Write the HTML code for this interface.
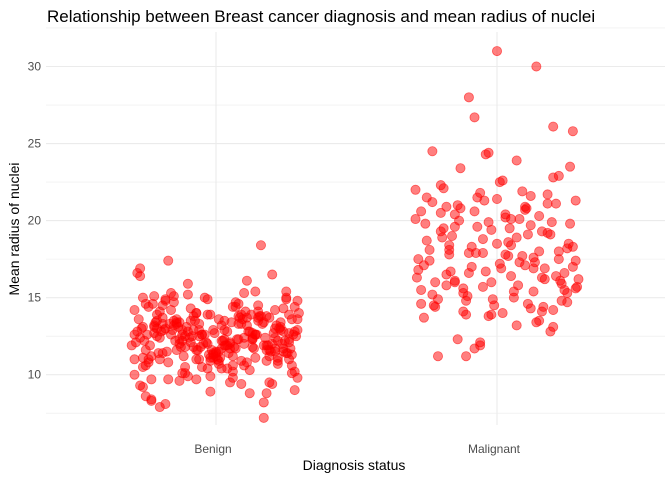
<!DOCTYPE html>
<html><head><meta charset="utf-8"><style>
body{margin:0;background:#fff;}
svg{display:block;font-family:"Liberation Sans",sans-serif;}
</style></head><body>
<svg id="chart" width="672" height="480">
<text x="47" y="22" font-size="17" fill="#000">Relationship between Breast cancer diagnosis and mean radius of nuclei</text>
<g id="grid"></g>
<g id="yticks"></g>
<g id="xticks"></g>
<g id="points"></g>
<text x="354" y="470" font-size="14" text-anchor="middle" fill="#000">Diagnosis status</text>
<text transform="translate(19,229) rotate(-90)" font-size="14" text-anchor="middle" fill="#000">Mean radius of nuclei</text>
</svg>
<script>
const categories=["Benign","Malignant"];
const yTicks=[10,15,20,25,30];
const benignJitter=[-0.29,-0.27,-0.25,-0.22,-0.2,-0.18,-0.15,-0.12,-0.1,-0.08,-0.05,-0.02,0,0.03,0.05,0.08,0.1,0.13,0.15,0.18,0.2,0.23,0.25,0.28,
-0.28,-0.26,-0.23,-0.21,-0.19,-0.16,-0.13,-0.11,-0.09,-0.06,-0.03,-0.01,0.02,0.04,0.07,0.09,0.12,0.14,0.17,0.19,0.22,0.24,0.27,0.29,
-0.29,-0.26,-0.24,-0.21,-0.17,-0.14,-0.12,-0.07,-0.04,-0.01,0.01,0.04,0.06,0.1,0.11,0.14,0.16,0.2,0.21,0.24,0.26,0.29,
-0.27,-0.25,-0.22,-0.2,-0.18,-0.15,-0.13,-0.1,-0.07,-0.05,-0.02,0.01,0.03,0.06,0.08,0.11,0.13,0.16,0.18,0.21,0.23,0.26,0.28,
-0.3,-0.26,-0.23,-0.19,-0.16,-0.12,-0.09,-0.06,-0.03,0,0.03,0.06,0.09,0.12,0.15,0.19,0.22,0.25,0.28,
-0.28,-0.24,-0.2,-0.17,-0.14,-0.11,-0.08,-0.04,-0.01,0.02,0.05,0.08,0.12,0.15,0.18,0.21,0.24,0.27,
-0.29,-0.25,-0.21,-0.18,-0.14,-0.1,-0.06,-0.02,0.02,0.06,0.1,0.14,0.18,0.22,0.26,0.29,
-0.27,-0.23,-0.19,-0.15,-0.11,-0.07,-0.03,0.01,0.05,0.09,0.13,0.17,0.21,0.25,
-0.26,-0.2,-0.13,-0.07,0,0.07,0.13,0.2,0.26,-0.24,-0.16,-0.08,0.04,0.11,0.19,0.27,-0.22,-0.12,-0.02,0.08,0.17,0.24,
-0.285,-0.265,-0.245,-0.225,-0.205,-0.185,-0.165,-0.145,-0.125,-0.105,-0.085,-0.065,-0.045,-0.025,-0.005,0.015,0.035,0.055,0.075,0.095,0.115,0.135,0.155,0.175,0.195,0.215,0.235,0.255,0.275,0.295,
-0.275,-0.255,-0.235,-0.215,-0.195,-0.175,-0.155,-0.135,-0.115,-0.095,-0.075,-0.055,-0.035,-0.015,0.005,0.025,0.045,0.065,0.085,0.105,0.125,0.145,0.165,0.185,0.205,0.225,0.245,0.265,0.285,
-0.29,-0.25,-0.21,-0.17,-0.13,-0.09,-0.05,-0.01,0.03,0.07,0.11,0.15,0.19,0.23,0.27,
-0.27,-0.23,-0.19,-0.15,-0.11,-0.07,-0.03,0.01,0.05,0.09,0.13,0.17,0.21,0.25,0.29,
-0.26,-0.18,-0.1,-0.02,0.06,0.14,0.22,0.28,-0.22,-0.14,-0.06,0.02,0.1,0.18,0.26];
const benignValues=[14.2,16.4,11.6,15.1,12.4,14.9,13.2,12.9,15.9,11.8,12.6,10.9,11.2,13.5,12.1,13.8,15.3,12.7,14.5,11.9,16.5,13.4,15.0,12.8,
12.8,10.5,9.7,13.0,11.4,15.3,12.3,11.8,13.5,12.9,14.9,11.1,13.2,10.4,11.7,13.9,12.8,15.4,11.9,13.7,12.2,14.3,11.3,12.9,
10.0,13.1,10.8,12.5,17.4,13.6,12.2,14.0,12.6,11.3,10.7,11.9,14.4,12.4,13.7,11.1,13.8,12.0,11.5,11.5,13.9,14.8,
9.3,10.6,12.7,14.1,13.0,14.7,9.6,15.2,11.6,12.6,9.9,13.6,11.9,9.8,14.6,13.2,12.4,18.4,11.6,12.4,13.1,12.1,10.2,
11.9,9.2,8.4,13.3,12.6,10.1,12.1,11.0,10.4,11.4,12.3,11.2,13.3,8.8,13.5,9.5,10.9,14.9,9.0,
16.6,14.4,11.0,9.7,13.4,10.1,12.9,15.0,12.9,11.7,12.0,13.3,10.3,14.1,10.9,11.7,12.8,10.1,
12.6,8.6,13.5,8.1,13.3,9.9,13.3,8.9,12.2,10.2,10.6,12.6,8.8,10.7,11.0,9.8,
16.9,8.3,13.7,15.1,10.5,9.7,12.0,10.9,9.5,9.4,12.3,7.2,13.0,15.4,
15.0,7.9,13.4,14.0,11.5,14.4,11.8,9.4,12.7,11.0,14.2,13.8,12.8,16.1,11.6,13.6,13.1,12.6,13.9,12.3,8.2,11.7,
12.1,13.0,12.6,14.6,11.4,12.9,13.3,12.2,11.8,13.1,12.5,11.6,12.0,11.3,12.7,11.1,11.9,13.4,12.3,13.6,12.8,11.7,13.8,12.4,11.5,13.2,12.0,11.4,12.6,14.0,
13.6,12.2,11.9,13.4,12.8,11.5,12.9,13.1,11.2,12.4,13.5,11.8,12.1,11.6,11.0,12.2,11.4,11.8,13.7,14.1,13.9,12.6,13.3,11.9,12.7,13.0,12.2,11.7,12.5,
11.0,14.6,13.9,10.8,12.0,14.3,10.5,11.4,12.9,14.7,10.8,13.7,11.2,12.9,10.6,
12.4,11.2,14.5,13.5,12.5,11.0,13.9,11.5,11.7,10.9,12.3,13.4,14.2,11.4,13.6,
11.1,14.8,12.8,11.1,10.6,12.6,11.1,14.4,13.2,11.6,12.5,10.4,12.0,13.8,12.3];
const malignantJitter=[-0.29,-0.27,-0.25,-0.23,-0.21,-0.19,-0.17,-0.15,-0.13,-0.11,-0.09,-0.07,-0.05,-0.03,-0.01,0.01,0.03,0.05,0.07,0.09,0.11,0.13,0.15,0.17,0.19,0.21,0.23,0.25,0.27,0.29,
-0.28,-0.26,-0.24,-0.22,-0.2,-0.18,-0.16,-0.14,-0.12,-0.1,-0.08,-0.06,-0.04,-0.02,0,0.02,0.04,0.06,0.08,0.1,0.12,0.14,0.16,0.18,0.2,0.22,0.24,0.26,0.28,
-0.29,-0.26,-0.23,-0.2,-0.17,-0.14,-0.11,-0.08,-0.05,-0.02,0.01,0.04,0.07,0.1,0.13,0.16,0.19,0.22,0.25,0.28,
-0.27,-0.24,-0.21,-0.18,-0.15,-0.12,-0.09,-0.06,-0.03,0,0.03,0.06,0.09,0.12,0.15,0.18,0.21,0.24,0.27,
-0.28,-0.23,-0.18,-0.13,-0.08,-0.03,0.02,0.07,0.12,0.17,0.22,0.27,-0.25,-0.19,-0.1,-0.04,0.05,0.11,0.2,0.26,
-0.2,-0.1,0,0.1,0.2,-0.15,-0.05,0.05,0.15,0.25,0.14,0.2,-0.06,-0.15,-0.11,0.16,
-0.285,-0.255,-0.225,-0.195,-0.165,-0.135,-0.105,-0.075,-0.045,-0.015,0.015,0.045,0.075,0.105,0.135,0.165,0.195,0.225,0.255,0.285,
-0.27,-0.22,-0.17,-0.12,-0.07,-0.02,0.03,0.08,0.13,0.18,0.23,0.28];
const malignantValues=[20.1,15.5,18.7,21.2,14.9,19.5,17.8,16.1,20.8,13.9,18.3,21.5,15.7,19.9,14.5,17.2,20.4,16.4,18.9,21.9,14.6,17.6,20.3,16.9,19.1,21.1,15.9,18.2,17.0,16.2,
16.8,13.7,17.4,14.4,22.3,16.5,19.0,12.3,15.3,17.9,20.6,11.9,16.7,19.4,21.4,14.0,18.6,15.0,17.3,20.9,19.7,13.4,16.3,21.7,14.2,18.0,16.6,19.8,15.6,
22.0,17.1,15.2,20.5,18.4,21.0,14.8,11.7,18.8,16.0,22.5,17.7,13.2,20.7,16.9,19.3,12.8,17.5,14.7,21.3,
14.6,18.1,11.2,15.8,19.6,14.1,17.0,21.8,13.8,18.5,20.2,15.4,17.7,21.6,13.5,19.2,16.4,15.5,18.3,
17.5,24.5,20.9,23.4,26.7,24.4,22.6,23.9,14.3,16.2,22.9,25.8,21.5,22.1,28.0,24.3,20.1,19.1,26.1,23.5,
19.3,16.6,31.0,17.1,13.1,20.4,17.9,18.4,18.0,15.3,30.0,22.8,12.1,16.0,11.2,14.1,
16.3,19.8,14.5,18.9,16.7,20.0,15.1,17.9,21.3,14.9,16.9,19.5,15.8,20.8,17.3,14.4,19.9,16.1,18.5,15.7,
20.6,16.0,18.1,15.6,19.6,13.9,17.8,20.1,15.4,21.1,14.8,17.4];
const xScale=(c)=>216+c*281;
const yScale=(v)=>374.7-(v-10)*15.41;
const NS="http://www.w3.org/2000/svg";
const grid=document.getElementById('grid'),yt=document.getElementById('yticks'),xt=document.getElementById('xticks'),pts=document.getElementById('points');
function line(x1,y1,x2,y2,w){const l=document.createElementNS(NS,'line');l.setAttribute('x1',x1);l.setAttribute('y1',y1);l.setAttribute('x2',x2);l.setAttribute('y2',y2);l.setAttribute('stroke','#ebebeb');l.setAttribute('stroke-width',w);return l;}
for(let v=7.5;v<=32.5;v+=2.5){const major=(v%5===0);const l=line(46,yScale(v),665,yScale(v),major?1.1:0.6);


grid.appendChild(l);}
categories.forEach((c,i)=>{const l=line(xScale(i),32,xScale(i),425,1.1);


grid.appendChild(l);
const t=document.createElementNS(NS,'text');t.setAttribute('x',xScale(i)-3);t.setAttribute('y',453);t.setAttribute('text-anchor','middle');t.setAttribute('font-size','12');t.setAttribute('fill','#4d4d4d');t.textContent=c;


xt.appendChild(t);});
yTicks.forEach(v=>{const t=document.createElementNS(NS,'text');t.setAttribute('x',41);t.setAttribute('y',yScale(v)+4);t.setAttribute('text-anchor','end');t.setAttribute('font-size','12');t.setAttribute('fill','#4d4d4d');t.textContent=v;


yt.appendChild(t);});
function drawPts(jit,vals,ci){for(let i=0;i<vals.length;i++){const c=document.createElementNS(NS,'circle');c.setAttribute('cx',xScale(ci+jit[i%jit.length]));c.setAttribute('cy',yScale(vals[i]));c.setAttribute('r',4.6);c.setAttribute('fill','rgba(255,0,0,0.5)');c.setAttribute('stroke','rgba(255,0,0,0.55)');c.setAttribute('stroke-width','0.8');


pts.appendChild(c);}}
drawPts(benignJitter,benignValues,0);
drawPts(malignantJitter,malignantValues,1);
</script>
</body></html>
